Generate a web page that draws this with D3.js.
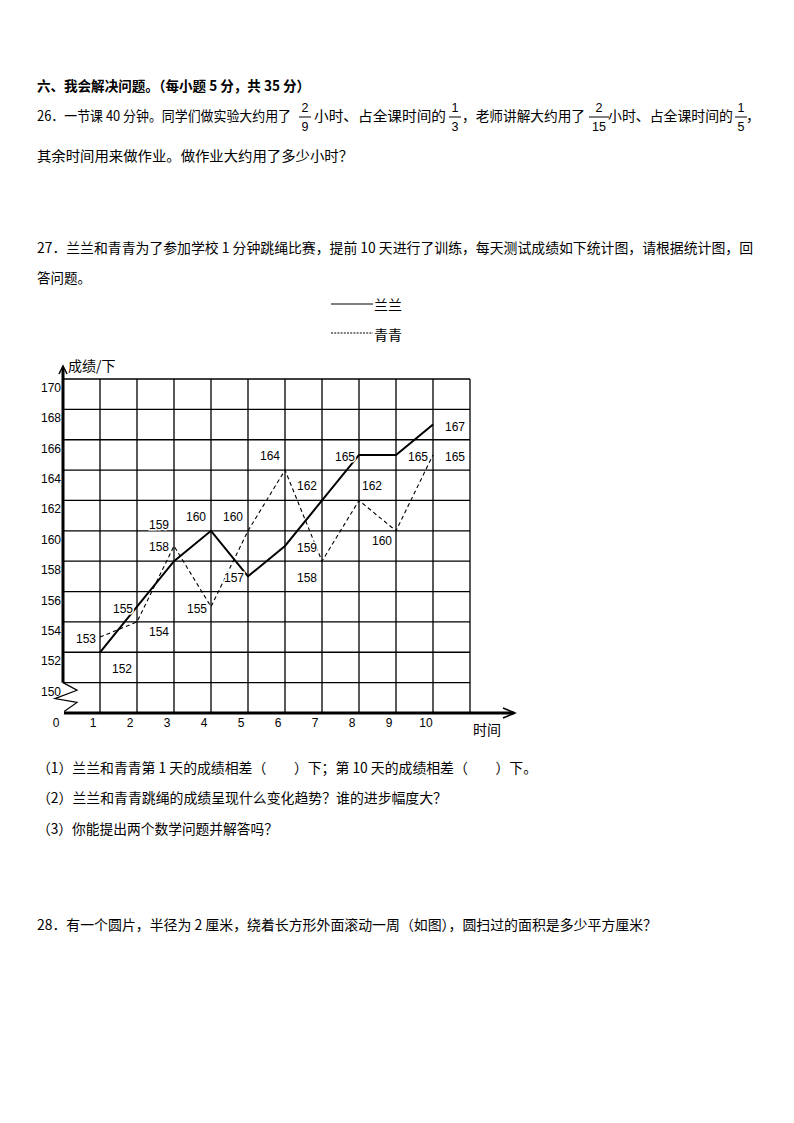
<!DOCTYPE html>
<html>
<head>
<meta charset="utf-8">
<script src="https://cdn.jsdelivr.net/npm/d3@7"></script>
<style>
  body{margin:0;background:#fff;}
  svg text{font-family:"Noto Sans CJK SC","Noto Sans",sans-serif;fill:#000;}
  .num{font-family:"Liberation Sans",Arial,sans-serif;}
</style>
</head>
<body>
<div id="pagina"></div>
<script>
// dados do grafico
const dias = [1,2,3,4,5,6,7,8,9,10];
const lanlan = [152,155,158,160,157,159,162,165,165,167];   // linha cheia
const qingqing = [153,154,159,155,160,164,158,162,160,165]; // linha tracejada
const yTicks = [150,152,154,156,158,160,162,164,166,168,170];
const xTickLabels = ['0','1','2','3','4','5','6','7','8','9','10'];
const nomes = ['兰兰','青青'];
// onde fica o numero de cada ponto
const posLanlan = ['br','l','tl','tl','l','r','tl','l','r','r'];
const posQingqing = ['l','br2','tt','l','tl','tl','bl','tr','bl2','r'];

const svg = d3.select('#pagina').append('svg')
  .attr('width',794).attr('height',1123);

// textos da questao
function linha(txt,x,y,len,extra){
  const t = svg.append('text').attr('x',x).attr('y',y).attr('font-size','14px').text(txt);
  if(len) t.attr('textLength',len).attr('lengthAdjust','spacingAndGlyphs');
  if(extra) t.attr('font-weight','bold');
  return t;
}
function fracao(n,d,cx,cy){ // fracao empilhada, cy = linha de base do texto
  svg.append('text').attr('x',cx).attr('y',cy-9).attr('text-anchor','middle')
    .attr('font-size','12.5px').attr('class','num').text(n);
  svg.append('line').attr('x1',cx-(String(d).length*4+2)).attr('x2',cx+(String(d).length*4+2))
    .attr('y1',cy-4).attr('y2',cy-4).attr('stroke','#000').attr('stroke-width',1);
  svg.append('text').attr('x',cx).attr('y',cy+10).attr('text-anchor','middle')
    .attr('font-size','12.5px').attr('class','num').text(d);
}

linha('六、我会解决问题。（每小题 5 分，共 35 分）',37,91,273,true);
linha('26．一节课 40 分钟。同学们做实验大约用了',37,121,254);
fracao(2,9,305,121);
linha('小时、占全课时间的',314,121,132);
fracao(1,3,455,121);
linha('，老师讲解大约用了',462,121,123);
fracao(2,15,599,121);
linha('小时、占全课时间的',608,121,125);
fracao(1,5,741,121);
linha('，',746,121);
linha('其余时间用来做作业。做作业大约用了多少小时？',37,161,316);

linha('27．兰兰和青青为了参加学校 1 分钟跳绳比赛，提前 10 天进行了训练，每天测试成绩如下统计图，请根据统计图，回',37,253,716);
linha('答问题。',37,283,54);

linha('（1）兰兰和青青第 1 天的成绩相差（　　）下；第 10 天的成绩相差（　　）下。',37,773,500);
linha('（2）兰兰和青青跳绳的成绩呈现什么变化趋势？谁的进步幅度大？',37,803,410);
linha('（3）你能提出两个数学问题并解答吗？',37,834,241);
linha('28．有一个圆片，半径为 2 厘米，绕着长方形外面滚动一周（如图），圆扫过的面积是多少平方厘米？',37,930,620);

// legenda
svg.append('line').attr('x1',331).attr('x2',373).attr('y1',304).attr('y2',304)
  .attr('stroke','#000').attr('stroke-width',1.2);
svg.append('text').attr('x',374).attr('y',310).attr('font-size','14px').text(nomes[0]);
svg.append('line').attr('x1',331).attr('x2',373).attr('y1',333).attr('y2',333)
  .attr('stroke','#000').attr('stroke-width',1).attr('stroke-dasharray','2,1.2');
svg.append('text').attr('x',374).attr('y',340).attr('font-size','14px').text(nomes[1]);

// escalas
const x = d3.scaleLinear().domain([0,11]).range([63,470]);
const y = d3.scaleLinear().domain([148,170]).range([713,379]);

const g = svg.append('g');

// grade
g.selectAll('.vgrid').data(d3.range(1,12)).join('line')
  .attr('x1',d=>x(d)).attr('x2',d=>x(d)).attr('y1',y(170)).attr('y2',y(148))
  .attr('stroke','#000').attr('stroke-width',1.3);
g.selectAll('.hgrid').data(yTicks).join('line')
  .attr('x1',x(0)).attr('x2',x(11)).attr('y1',d=>y(d)).attr('y2',d=>y(d))
  .attr('stroke','#000').attr('stroke-width',1.3);

// eixo y grosso com quebra
g.append('line').attr('x1',x(0)).attr('x2',x(0)).attr('y1',y(170)-11).attr('y2',y(150))
  .attr('stroke','#000').attr('stroke-width',3);
g.append('path').attr('d','M'+(x(0)-4)+','+(y(170)-5)+' L'+x(0)+','+(y(170)-13)+' L'+(x(0)+4)+','+(y(170)-5))
  .attr('fill','none').attr('stroke','#000').attr('stroke-width',1.5);
const quebra = [[0,150],[0.38,149.5],[-0.22,148.95],[0.38,148.7],[0.03,148.1]];
g.append('path').attr('d',d3.line().x(d=>x(d[0])).y(d=>y(d[1]))(quebra))
  .attr('fill','none').attr('stroke','#000').attr('stroke-width',1.2);

// eixo x
g.append('line').attr('x1',x(0)+1).attr('x2',x(11)+44).attr('y1',y(148)).attr('y2',y(148))
  .attr('stroke','#000').attr('stroke-width',3);
g.append('path').attr('d','M'+(x(11)+33)+','+(y(148)-5)+' L'+(x(11)+45)+','+y(148)+' L'+(x(11)+33)+','+(y(148)+5))
  .attr('fill','none').attr('stroke','#000').attr('stroke-width',1.5);

// rotulos dos eixos
g.selectAll('.ylab').data(yTicks).join('text').attr('class','num')
  .attr('x',x(0)-2).attr('y',d=>y(d)+9).attr('text-anchor','end')
  .attr('dominant-baseline','central').attr('font-size','12px').text(d=>d);
g.selectAll('.xlab').data(xTickLabels).join('text').attr('class','num')
  .attr('x',(d,i)=>x(i)-7).attr('y',y(148)+10).attr('text-anchor','middle')
  .attr('dominant-baseline','central').attr('font-size','12px').text(d=>d);
g.append('text').attr('x',x(0)+5).attr('y',y(170)-8).attr('font-size','14px').text('成绩/下');
g.append('text').attr('x',x(11)+3).attr('y',y(148)+22).attr('font-size','14px').text('时间');

// linhas das series
const linhaSerie = d3.line().x((d,i)=>x(dias[i])).y(d=>y(d));
g.append('path').attr('d',linhaSerie(qingqing)).attr('fill','none')
  .attr('stroke','#000').attr('stroke-width',1.1).attr('stroke-dasharray','4,3');
g.append('path').attr('d',linhaSerie(lanlan)).attr('fill','none')
  .attr('stroke','#000').attr('stroke-width',2);

// numeros nos pontos
const desloc = {l:[-14,2], r:[22,2], tl:[-15,-14], tt:[-15,-21], tr:[13,-14],
                bl:[-15,17], bl2:[-14,10], br:[22,17], br2:[22,10]};
function rotulos(serie,pos){
  g.selectAll(null).data(serie).join('text').attr('class','num')
    .attr('x',(d,i)=>x(dias[i])+desloc[pos[i]][0])
    .attr('y',(d,i)=>y(d)+desloc[pos[i]][1])
    .attr('text-anchor','middle').attr('dominant-baseline','central')
    .attr('font-size','12px').attr('stroke','#fff').attr('stroke-width',3)
    .attr('paint-order','stroke').text(d=>d);
}
rotulos(lanlan,posLanlan);
rotulos(qingqing,posQingqing);
</script>
</body>
</html>
